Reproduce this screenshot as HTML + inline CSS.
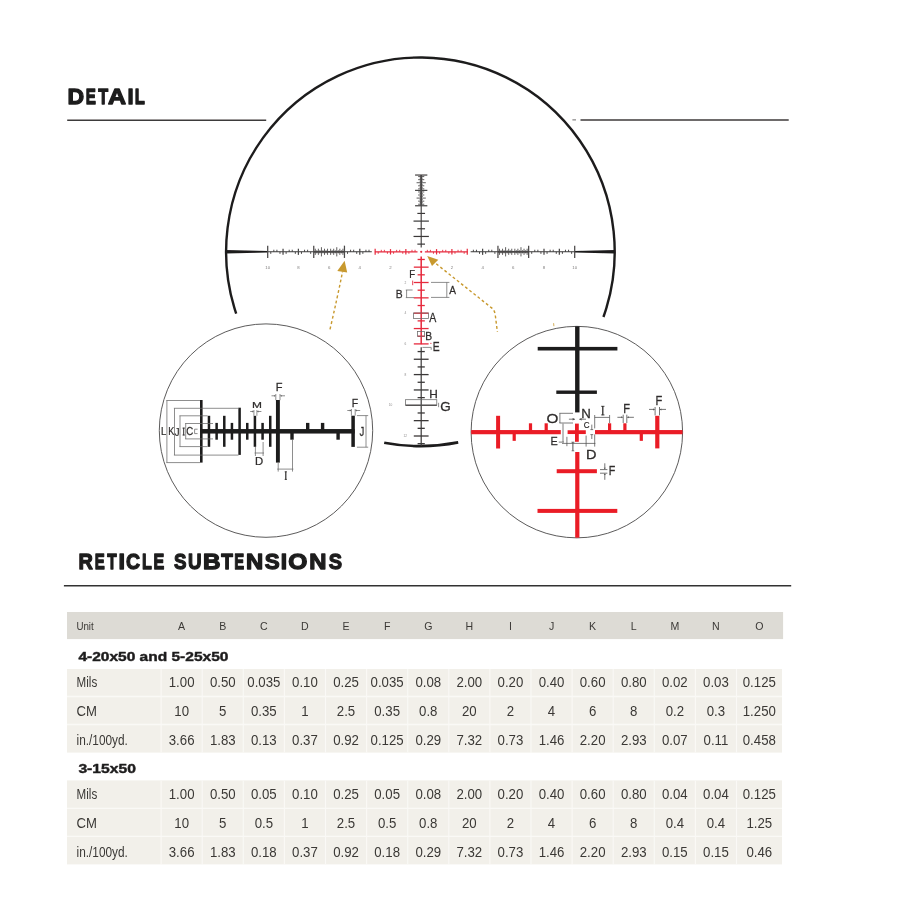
<!DOCTYPE html>
<html><head><meta charset="utf-8"><title>Reticle Subtensions</title>
<style>
html,body{margin:0;padding:0;background:#fff;}
body{width:908px;height:908px;overflow:hidden;font-family:"Liberation Sans",sans-serif;}
svg{will-change:transform;display:block;font-family:"Liberation Sans",sans-serif;}
</style></head><body>
<svg width="908" height="908" viewBox="0 0 908 908">
<defs><filter id="soft" x="0" y="0" width="908" height="908" filterUnits="userSpaceOnUse"><feGaussianBlur stdDeviation="0.45"/></filter></defs>
<rect width="908" height="908" fill="#ffffff"/>
<g filter="url(#soft)">
<path d="M236.19 313.60 A194.3 194.3 0 1 1 603.43 317.00" fill="none" stroke="#1d1b1c" stroke-width="2.4"/>
<path d="M458.20 442.39 A194.3 194.3 0 0 1 384.20 442.70" fill="none" stroke="#1d1b1c" stroke-width="2.6"/>
<polygon points="226.10,250.10000000000002 267.70,251.0 267.70,252.60000000000002 226.10,253.5" fill="#1d1b1c"/>
<polygon points="614.70,250.10000000000002 574.70,251.0 574.70,252.60000000000002 614.70,253.5" fill="#1d1b1c"/>
<line x1="371.77" y1="251.80" x2="267.70" y2="251.80" stroke="#3a3838" stroke-width="1.1" />
<line x1="369.01" y1="249.73" x2="369.01" y2="251.80" stroke="#3a3838" stroke-width="0.9" />
<line x1="365.94" y1="249.73" x2="365.94" y2="251.80" stroke="#3a3838" stroke-width="0.9" />
<line x1="362.87" y1="251.80" x2="362.87" y2="253.87" stroke="#3a3838" stroke-width="0.9" />
<line x1="359.80" y1="248.73" x2="359.80" y2="254.87" stroke="#4a4848" stroke-width="1.25" />
<line x1="356.73" y1="251.80" x2="356.73" y2="253.87" stroke="#3a3838" stroke-width="0.9" />
<line x1="353.66" y1="249.73" x2="353.66" y2="251.80" stroke="#3a3838" stroke-width="0.9" />
<line x1="350.59" y1="249.73" x2="350.59" y2="251.80" stroke="#3a3838" stroke-width="0.9" />
<line x1="347.52" y1="251.80" x2="347.52" y2="253.87" stroke="#3a3838" stroke-width="0.9" />
<line x1="344.45" y1="245.66" x2="344.45" y2="257.94" stroke="#4a4848" stroke-width="1.25" />
<line x1="313.75" y1="245.66" x2="313.75" y2="257.94" stroke="#4a4848" stroke-width="1.25" />
<line x1="310.68" y1="251.80" x2="310.68" y2="253.87" stroke="#3a3838" stroke-width="0.9" />
<line x1="307.61" y1="249.73" x2="307.61" y2="251.80" stroke="#3a3838" stroke-width="0.9" />
<line x1="304.54" y1="249.73" x2="304.54" y2="251.80" stroke="#3a3838" stroke-width="0.9" />
<line x1="301.47" y1="251.80" x2="301.47" y2="253.87" stroke="#3a3838" stroke-width="0.9" />
<line x1="298.40" y1="248.73" x2="298.40" y2="254.87" stroke="#4a4848" stroke-width="1.25" />
<line x1="295.33" y1="251.80" x2="295.33" y2="253.87" stroke="#3a3838" stroke-width="0.9" />
<line x1="292.26" y1="249.73" x2="292.26" y2="251.80" stroke="#3a3838" stroke-width="0.9" />
<line x1="289.19" y1="249.73" x2="289.19" y2="251.80" stroke="#3a3838" stroke-width="0.9" />
<line x1="286.12" y1="251.80" x2="286.12" y2="253.87" stroke="#3a3838" stroke-width="0.9" />
<line x1="283.05" y1="248.73" x2="283.05" y2="254.87" stroke="#4a4848" stroke-width="1.25" />
<line x1="279.98" y1="251.80" x2="279.98" y2="253.87" stroke="#3a3838" stroke-width="0.9" />
<line x1="276.91" y1="249.73" x2="276.91" y2="251.80" stroke="#3a3838" stroke-width="0.9" />
<line x1="273.84" y1="249.73" x2="273.84" y2="251.80" stroke="#3a3838" stroke-width="0.9" />
<line x1="270.77" y1="251.80" x2="270.77" y2="253.87" stroke="#3a3838" stroke-width="0.9" />
<line x1="267.70" y1="245.66" x2="267.70" y2="257.94" stroke="#4a4848" stroke-width="1.25" />
<line x1="344.45" y1="251.80" x2="313.75" y2="251.80" stroke="#454343" stroke-width="1.7" />
<line x1="342.91" y1="248.73" x2="342.91" y2="254.87" stroke="#4e4c4c" stroke-width="0.9" />
<line x1="341.38" y1="250.27" x2="341.38" y2="253.34" stroke="#4e4c4c" stroke-width="0.9" />
<line x1="339.84" y1="248.73" x2="339.84" y2="254.87" stroke="#4e4c4c" stroke-width="0.9" />
<line x1="338.31" y1="250.27" x2="338.31" y2="253.34" stroke="#4e4c4c" stroke-width="0.9" />
<line x1="336.77" y1="247.20" x2="336.77" y2="256.41" stroke="#4e4c4c" stroke-width="0.9" />
<line x1="335.24" y1="250.27" x2="335.24" y2="253.34" stroke="#4e4c4c" stroke-width="0.9" />
<line x1="333.70" y1="248.73" x2="333.70" y2="254.87" stroke="#4e4c4c" stroke-width="0.9" />
<line x1="332.17" y1="250.27" x2="332.17" y2="253.34" stroke="#4e4c4c" stroke-width="0.9" />
<line x1="330.63" y1="248.73" x2="330.63" y2="254.87" stroke="#4e4c4c" stroke-width="0.9" />
<line x1="327.56" y1="248.73" x2="327.56" y2="254.87" stroke="#4e4c4c" stroke-width="0.9" />
<line x1="326.03" y1="250.27" x2="326.03" y2="253.34" stroke="#4e4c4c" stroke-width="0.9" />
<line x1="324.50" y1="248.73" x2="324.50" y2="254.87" stroke="#4e4c4c" stroke-width="0.9" />
<line x1="322.96" y1="250.27" x2="322.96" y2="253.34" stroke="#4e4c4c" stroke-width="0.9" />
<line x1="321.43" y1="247.20" x2="321.43" y2="256.41" stroke="#4e4c4c" stroke-width="0.9" />
<line x1="319.89" y1="250.27" x2="319.89" y2="253.34" stroke="#4e4c4c" stroke-width="0.9" />
<line x1="318.36" y1="248.73" x2="318.36" y2="254.87" stroke="#4e4c4c" stroke-width="0.9" />
<line x1="316.82" y1="250.27" x2="316.82" y2="253.34" stroke="#4e4c4c" stroke-width="0.9" />
<line x1="315.28" y1="248.73" x2="315.28" y2="254.87" stroke="#4e4c4c" stroke-width="0.9" />
<text x="390.50" y="269.20" font-size="4.3" fill="#7c7a7a" text-anchor="middle" font-weight="normal" >2</text>
<text x="359.80" y="269.20" font-size="4.3" fill="#7c7a7a" text-anchor="middle" font-weight="normal" >4</text>
<text x="329.10" y="269.20" font-size="4.3" fill="#7c7a7a" text-anchor="middle" font-weight="normal" >6</text>
<text x="298.40" y="269.20" font-size="4.3" fill="#7c7a7a" text-anchor="middle" font-weight="normal" >8</text>
<text x="267.70" y="269.20" font-size="4.3" fill="#7c7a7a" text-anchor="middle" font-weight="normal" >10</text>
<line x1="470.63" y1="251.80" x2="574.70" y2="251.80" stroke="#3a3838" stroke-width="1.1" />
<line x1="473.39" y1="249.73" x2="473.39" y2="251.80" stroke="#3a3838" stroke-width="0.9" />
<line x1="476.46" y1="249.73" x2="476.46" y2="251.80" stroke="#3a3838" stroke-width="0.9" />
<line x1="479.53" y1="251.80" x2="479.53" y2="253.87" stroke="#3a3838" stroke-width="0.9" />
<line x1="482.60" y1="248.73" x2="482.60" y2="254.87" stroke="#4a4848" stroke-width="1.25" />
<line x1="485.67" y1="251.80" x2="485.67" y2="253.87" stroke="#3a3838" stroke-width="0.9" />
<line x1="488.74" y1="249.73" x2="488.74" y2="251.80" stroke="#3a3838" stroke-width="0.9" />
<line x1="491.81" y1="249.73" x2="491.81" y2="251.80" stroke="#3a3838" stroke-width="0.9" />
<line x1="494.88" y1="251.80" x2="494.88" y2="253.87" stroke="#3a3838" stroke-width="0.9" />
<line x1="497.95" y1="245.66" x2="497.95" y2="257.94" stroke="#4a4848" stroke-width="1.25" />
<line x1="528.65" y1="245.66" x2="528.65" y2="257.94" stroke="#4a4848" stroke-width="1.25" />
<line x1="531.72" y1="251.80" x2="531.72" y2="253.87" stroke="#3a3838" stroke-width="0.9" />
<line x1="534.79" y1="249.73" x2="534.79" y2="251.80" stroke="#3a3838" stroke-width="0.9" />
<line x1="537.86" y1="249.73" x2="537.86" y2="251.80" stroke="#3a3838" stroke-width="0.9" />
<line x1="540.93" y1="251.80" x2="540.93" y2="253.87" stroke="#3a3838" stroke-width="0.9" />
<line x1="544.00" y1="248.73" x2="544.00" y2="254.87" stroke="#4a4848" stroke-width="1.25" />
<line x1="547.07" y1="251.80" x2="547.07" y2="253.87" stroke="#3a3838" stroke-width="0.9" />
<line x1="550.14" y1="249.73" x2="550.14" y2="251.80" stroke="#3a3838" stroke-width="0.9" />
<line x1="553.21" y1="249.73" x2="553.21" y2="251.80" stroke="#3a3838" stroke-width="0.9" />
<line x1="556.28" y1="251.80" x2="556.28" y2="253.87" stroke="#3a3838" stroke-width="0.9" />
<line x1="559.35" y1="248.73" x2="559.35" y2="254.87" stroke="#4a4848" stroke-width="1.25" />
<line x1="562.42" y1="251.80" x2="562.42" y2="253.87" stroke="#3a3838" stroke-width="0.9" />
<line x1="565.49" y1="249.73" x2="565.49" y2="251.80" stroke="#3a3838" stroke-width="0.9" />
<line x1="568.56" y1="249.73" x2="568.56" y2="251.80" stroke="#3a3838" stroke-width="0.9" />
<line x1="571.63" y1="251.80" x2="571.63" y2="253.87" stroke="#3a3838" stroke-width="0.9" />
<line x1="574.70" y1="245.66" x2="574.70" y2="257.94" stroke="#4a4848" stroke-width="1.25" />
<line x1="497.95" y1="251.80" x2="528.65" y2="251.80" stroke="#454343" stroke-width="1.7" />
<line x1="499.49" y1="248.73" x2="499.49" y2="254.87" stroke="#4e4c4c" stroke-width="0.9" />
<line x1="501.02" y1="250.27" x2="501.02" y2="253.34" stroke="#4e4c4c" stroke-width="0.9" />
<line x1="502.56" y1="248.73" x2="502.56" y2="254.87" stroke="#4e4c4c" stroke-width="0.9" />
<line x1="504.09" y1="250.27" x2="504.09" y2="253.34" stroke="#4e4c4c" stroke-width="0.9" />
<line x1="505.62" y1="247.20" x2="505.62" y2="256.41" stroke="#4e4c4c" stroke-width="0.9" />
<line x1="507.16" y1="250.27" x2="507.16" y2="253.34" stroke="#4e4c4c" stroke-width="0.9" />
<line x1="508.69" y1="248.73" x2="508.69" y2="254.87" stroke="#4e4c4c" stroke-width="0.9" />
<line x1="510.23" y1="250.27" x2="510.23" y2="253.34" stroke="#4e4c4c" stroke-width="0.9" />
<line x1="511.76" y1="248.73" x2="511.76" y2="254.87" stroke="#4e4c4c" stroke-width="0.9" />
<line x1="514.84" y1="248.73" x2="514.84" y2="254.87" stroke="#4e4c4c" stroke-width="0.9" />
<line x1="516.37" y1="250.27" x2="516.37" y2="253.34" stroke="#4e4c4c" stroke-width="0.9" />
<line x1="517.90" y1="248.73" x2="517.90" y2="254.87" stroke="#4e4c4c" stroke-width="0.9" />
<line x1="519.44" y1="250.27" x2="519.44" y2="253.34" stroke="#4e4c4c" stroke-width="0.9" />
<line x1="520.98" y1="247.20" x2="520.98" y2="256.41" stroke="#4e4c4c" stroke-width="0.9" />
<line x1="522.51" y1="250.27" x2="522.51" y2="253.34" stroke="#4e4c4c" stroke-width="0.9" />
<line x1="524.04" y1="248.73" x2="524.04" y2="254.87" stroke="#4e4c4c" stroke-width="0.9" />
<line x1="525.58" y1="250.27" x2="525.58" y2="253.34" stroke="#4e4c4c" stroke-width="0.9" />
<line x1="527.12" y1="248.73" x2="527.12" y2="254.87" stroke="#4e4c4c" stroke-width="0.9" />
<text x="451.90" y="269.20" font-size="4.3" fill="#7c7a7a" text-anchor="middle" font-weight="normal" >2</text>
<text x="482.60" y="269.20" font-size="4.3" fill="#7c7a7a" text-anchor="middle" font-weight="normal" >4</text>
<text x="513.30" y="269.20" font-size="4.3" fill="#7c7a7a" text-anchor="middle" font-weight="normal" >6</text>
<text x="544.00" y="269.20" font-size="4.3" fill="#7c7a7a" text-anchor="middle" font-weight="normal" >8</text>
<text x="574.70" y="269.20" font-size="4.3" fill="#7c7a7a" text-anchor="middle" font-weight="normal" >10</text>
<line x1="421.20" y1="247.50" x2="421.20" y2="175.05" stroke="#3a3838" stroke-width="1.1" />
<line x1="417.36" y1="244.12" x2="425.04" y2="244.12" stroke="#3a3838" stroke-width="1.2" />
<line x1="413.52" y1="236.45" x2="428.88" y2="236.45" stroke="#3a3838" stroke-width="1.2" />
<line x1="417.36" y1="228.78" x2="425.04" y2="228.78" stroke="#3a3838" stroke-width="1.2" />
<line x1="413.52" y1="221.10" x2="428.88" y2="221.10" stroke="#3a3838" stroke-width="1.2" />
<line x1="417.36" y1="213.43" x2="425.04" y2="213.43" stroke="#3a3838" stroke-width="1.2" />
<line x1="421.20" y1="205.75" x2="421.20" y2="175.05" stroke="#454343" stroke-width="1.7" />
<line x1="415.06" y1="205.75" x2="427.34" y2="205.75" stroke="#4a4848" stroke-width="1.25" />
<line x1="418.13" y1="204.22" x2="424.27" y2="204.22" stroke="#4e4c4c" stroke-width="0.9" />
<line x1="419.66" y1="202.68" x2="422.74" y2="202.68" stroke="#4e4c4c" stroke-width="0.9" />
<line x1="418.13" y1="201.15" x2="424.27" y2="201.15" stroke="#4e4c4c" stroke-width="0.9" />
<line x1="419.66" y1="199.61" x2="422.74" y2="199.61" stroke="#4e4c4c" stroke-width="0.9" />
<line x1="416.59" y1="198.08" x2="425.81" y2="198.08" stroke="#4e4c4c" stroke-width="0.9" />
<line x1="419.66" y1="196.54" x2="422.74" y2="196.54" stroke="#4e4c4c" stroke-width="0.9" />
<line x1="418.13" y1="195.00" x2="424.27" y2="195.00" stroke="#4e4c4c" stroke-width="0.9" />
<line x1="419.66" y1="193.47" x2="422.74" y2="193.47" stroke="#4e4c4c" stroke-width="0.9" />
<line x1="418.13" y1="191.94" x2="424.27" y2="191.94" stroke="#4e4c4c" stroke-width="0.9" />
<line x1="415.06" y1="190.40" x2="427.34" y2="190.40" stroke="#4a4848" stroke-width="1.25" />
<line x1="418.13" y1="188.87" x2="424.27" y2="188.87" stroke="#4e4c4c" stroke-width="0.9" />
<line x1="419.66" y1="187.33" x2="422.74" y2="187.33" stroke="#4e4c4c" stroke-width="0.9" />
<line x1="418.13" y1="185.80" x2="424.27" y2="185.80" stroke="#4e4c4c" stroke-width="0.9" />
<line x1="419.66" y1="184.26" x2="422.74" y2="184.26" stroke="#4e4c4c" stroke-width="0.9" />
<line x1="416.59" y1="182.73" x2="425.81" y2="182.73" stroke="#4e4c4c" stroke-width="0.9" />
<line x1="419.66" y1="181.19" x2="422.74" y2="181.19" stroke="#4e4c4c" stroke-width="0.9" />
<line x1="418.13" y1="179.66" x2="424.27" y2="179.66" stroke="#4e4c4c" stroke-width="0.9" />
<line x1="419.66" y1="178.12" x2="422.74" y2="178.12" stroke="#4e4c4c" stroke-width="0.9" />
<line x1="418.13" y1="176.59" x2="424.27" y2="176.59" stroke="#4e4c4c" stroke-width="0.9" />
<line x1="415.06" y1="175.05" x2="427.34" y2="175.05" stroke="#4a4848" stroke-width="1.25" />
<line x1="417.52" y1="251.80" x2="374.84" y2="251.80" stroke="#e62a3c" stroke-width="1.25" />
<line x1="415.06" y1="249.83" x2="415.06" y2="251.80" stroke="#e62a3c" stroke-width="0.9" />
<line x1="411.99" y1="249.83" x2="411.99" y2="251.80" stroke="#e62a3c" stroke-width="0.9" />
<line x1="408.92" y1="251.80" x2="408.92" y2="253.77" stroke="#e62a3c" stroke-width="0.9" />
<line x1="405.85" y1="249.10" x2="405.85" y2="254.50" stroke="#e62a3c" stroke-width="1.2" />
<line x1="402.78" y1="251.80" x2="402.78" y2="253.77" stroke="#e62a3c" stroke-width="0.9" />
<line x1="399.71" y1="249.83" x2="399.71" y2="251.80" stroke="#e62a3c" stroke-width="0.9" />
<line x1="396.64" y1="249.83" x2="396.64" y2="251.80" stroke="#e62a3c" stroke-width="0.9" />
<line x1="393.57" y1="251.80" x2="393.57" y2="253.77" stroke="#e62a3c" stroke-width="0.9" />
<line x1="390.50" y1="249.10" x2="390.50" y2="254.50" stroke="#e62a3c" stroke-width="1.2" />
<line x1="387.43" y1="251.80" x2="387.43" y2="253.77" stroke="#e62a3c" stroke-width="0.9" />
<line x1="384.36" y1="249.83" x2="384.36" y2="251.80" stroke="#e62a3c" stroke-width="0.9" />
<line x1="381.29" y1="249.83" x2="381.29" y2="251.80" stroke="#e62a3c" stroke-width="0.9" />
<line x1="378.22" y1="251.80" x2="378.22" y2="253.77" stroke="#e62a3c" stroke-width="0.9" />
<line x1="375.15" y1="248.80" x2="375.15" y2="254.80" stroke="#e62a3c" stroke-width="1.2" />
<line x1="424.88" y1="251.80" x2="467.56" y2="251.80" stroke="#e62a3c" stroke-width="1.25" />
<line x1="427.34" y1="249.83" x2="427.34" y2="251.80" stroke="#e62a3c" stroke-width="0.9" />
<line x1="430.41" y1="249.83" x2="430.41" y2="251.80" stroke="#e62a3c" stroke-width="0.9" />
<line x1="433.48" y1="251.80" x2="433.48" y2="253.77" stroke="#e62a3c" stroke-width="0.9" />
<line x1="436.55" y1="249.10" x2="436.55" y2="254.50" stroke="#e62a3c" stroke-width="1.2" />
<line x1="439.62" y1="251.80" x2="439.62" y2="253.77" stroke="#e62a3c" stroke-width="0.9" />
<line x1="442.69" y1="249.83" x2="442.69" y2="251.80" stroke="#e62a3c" stroke-width="0.9" />
<line x1="445.76" y1="249.83" x2="445.76" y2="251.80" stroke="#e62a3c" stroke-width="0.9" />
<line x1="448.83" y1="251.80" x2="448.83" y2="253.77" stroke="#e62a3c" stroke-width="0.9" />
<line x1="451.90" y1="249.10" x2="451.90" y2="254.50" stroke="#e62a3c" stroke-width="1.2" />
<line x1="454.97" y1="251.80" x2="454.97" y2="253.77" stroke="#e62a3c" stroke-width="0.9" />
<line x1="458.04" y1="249.83" x2="458.04" y2="251.80" stroke="#e62a3c" stroke-width="0.9" />
<line x1="461.11" y1="249.83" x2="461.11" y2="251.80" stroke="#e62a3c" stroke-width="0.9" />
<line x1="464.18" y1="251.80" x2="464.18" y2="253.77" stroke="#e62a3c" stroke-width="0.9" />
<line x1="467.25" y1="248.80" x2="467.25" y2="254.80" stroke="#e62a3c" stroke-width="1.2" />
<circle cx="421.2" cy="251.8" r="1.1" fill="#e62a3c"/>
<line x1="421.20" y1="256.41" x2="421.20" y2="344.21" stroke="#e62a3c" stroke-width="1.5" />
<line x1="417.60" y1="259.48" x2="424.80" y2="259.48" stroke="#e62a3c" stroke-width="1.3" />
<line x1="413.80" y1="267.15" x2="428.60" y2="267.15" stroke="#e62a3c" stroke-width="1.3" />
<line x1="417.60" y1="274.82" x2="424.80" y2="274.82" stroke="#e62a3c" stroke-width="1.3" />
<line x1="413.80" y1="282.50" x2="428.60" y2="282.50" stroke="#e62a3c" stroke-width="1.3" />
<line x1="417.60" y1="290.18" x2="424.80" y2="290.18" stroke="#e62a3c" stroke-width="1.3" />
<line x1="413.80" y1="297.85" x2="428.60" y2="297.85" stroke="#e62a3c" stroke-width="1.3" />
<line x1="417.60" y1="305.53" x2="424.80" y2="305.53" stroke="#e62a3c" stroke-width="1.3" />
<line x1="413.80" y1="313.20" x2="428.60" y2="313.20" stroke="#e62a3c" stroke-width="1.3" />
<line x1="417.60" y1="320.88" x2="424.80" y2="320.88" stroke="#e62a3c" stroke-width="1.3" />
<line x1="413.80" y1="328.55" x2="428.60" y2="328.55" stroke="#e62a3c" stroke-width="1.3" />
<line x1="417.60" y1="336.23" x2="424.80" y2="336.23" stroke="#e62a3c" stroke-width="1.3" />
<line x1="413.80" y1="343.90" x2="428.60" y2="343.90" stroke="#e62a3c" stroke-width="1.3" />
<line x1="421.20" y1="347.28" x2="421.20" y2="446.10" stroke="#3a3838" stroke-width="1.2000000000000002" />
<line x1="417.60" y1="351.57" x2="424.80" y2="351.57" stroke="#3a3838" stroke-width="1.3" />
<line x1="413.80" y1="359.25" x2="428.60" y2="359.25" stroke="#3a3838" stroke-width="1.3" />
<line x1="417.60" y1="366.93" x2="424.80" y2="366.93" stroke="#3a3838" stroke-width="1.3" />
<line x1="413.80" y1="374.60" x2="428.60" y2="374.60" stroke="#3a3838" stroke-width="1.3" />
<line x1="417.60" y1="382.27" x2="424.80" y2="382.27" stroke="#3a3838" stroke-width="1.3" />
<line x1="413.80" y1="389.95" x2="428.60" y2="389.95" stroke="#3a3838" stroke-width="1.3" />
<line x1="417.60" y1="397.62" x2="424.80" y2="397.62" stroke="#3a3838" stroke-width="1.3" />
<line x1="405.60" y1="405.30" x2="436.80" y2="405.30" stroke="#3a3838" stroke-width="1.3" />
<line x1="417.60" y1="412.98" x2="424.80" y2="412.98" stroke="#3a3838" stroke-width="1.3" />
<line x1="413.80" y1="420.65" x2="428.60" y2="420.65" stroke="#3a3838" stroke-width="1.3" />
<line x1="417.60" y1="428.33" x2="424.80" y2="428.33" stroke="#3a3838" stroke-width="1.3" />
<line x1="413.80" y1="436.00" x2="428.60" y2="436.00" stroke="#3a3838" stroke-width="1.3" />
<line x1="417.60" y1="443.68" x2="424.80" y2="443.68" stroke="#3a3838" stroke-width="1.3" />
<text x="405.50" y="283.60" font-size="3.2" fill="#8e8c8c" text-anchor="middle" font-weight="normal" >2</text>
<text x="405.50" y="314.30" font-size="3.2" fill="#8e8c8c" text-anchor="middle" font-weight="normal" >4</text>
<text x="405.50" y="345.00" font-size="3.2" fill="#8e8c8c" text-anchor="middle" font-weight="normal" >6</text>
<text x="405.50" y="375.70" font-size="3.2" fill="#8e8c8c" text-anchor="middle" font-weight="normal" >8</text>
<text x="390.40" y="406.40" font-size="3.2" fill="#8e8c8c" text-anchor="middle" font-weight="normal" >10</text>
<text x="405.30" y="437.10" font-size="3.2" fill="#8e8c8c" text-anchor="middle" font-weight="normal" >12</text>
<text transform="translate(409.31,278.40) scale(0.9611,1.1337)" font-size="10.0" fill="#2e2c2b" stroke="#2e2c2b" stroke-width="0.22">F</text>
<line x1="412.70" y1="280.60" x2="412.70" y2="285.20" stroke="#e62a3c" stroke-width="0.9" />
<line x1="405.80" y1="290.00" x2="412.60" y2="290.00" stroke="#686868" stroke-width="0.75" />
<line x1="405.80" y1="297.60" x2="414.00" y2="297.60" stroke="#686868" stroke-width="0.75" />
<line x1="406.60" y1="290.00" x2="406.60" y2="297.60" stroke="#686868" stroke-width="0.75" />
<text transform="translate(395.75,298.20) scale(1.0338,1.1628)" font-size="10.0" fill="#2e2c2b" stroke="#2e2c2b" stroke-width="0.22">B</text>
<line x1="431.00" y1="282.40" x2="449.40" y2="282.40" stroke="#686868" stroke-width="0.75" />
<line x1="431.00" y1="297.40" x2="449.40" y2="297.40" stroke="#686868" stroke-width="0.75" />
<line x1="446.80" y1="282.40" x2="446.80" y2="297.40" stroke="#686868" stroke-width="0.75" />
<text transform="translate(449.28,293.70) scale(1.0106,1.1483)" font-size="10.0" fill="#2e2c2b" stroke="#2e2c2b" stroke-width="0.22">A</text>
<rect x="413.40" y="313.00" width="15.20" height="5.40" fill="none" stroke="#686868" stroke-width="0.75"/>
<text transform="translate(429.28,321.70) scale(1.0558,1.1919)" font-size="10.0" fill="#2e2c2b" stroke="#2e2c2b" stroke-width="0.22">A</text>
<rect x="417.40" y="331.40" width="7.20" height="4.80" fill="none" stroke="#686868" stroke-width="0.75"/>
<text transform="translate(425.35,339.90) scale(1.0338,1.1483)" font-size="10.0" fill="#2e2c2b" stroke="#2e2c2b" stroke-width="0.22">B</text>
<line x1="422.40" y1="347.40" x2="431.20" y2="347.40" stroke="#686868" stroke-width="0.75" />
<line x1="431.20" y1="347.40" x2="431.20" y2="349.80" stroke="#686868" stroke-width="0.75" />
<circle cx="430.9" cy="343.3" r="0.6" fill="#e62a3c"/>
<text transform="translate(432.75,350.60) scale(1.0332,1.2791)" font-size="10.0" fill="#2e2c2b" stroke="#2e2c2b" stroke-width="0.22">E</text>
<text transform="translate(429.33,398.00) scale(1.1807,1.1483)" font-size="10.0" fill="#2e2c2b" stroke="#2e2c2b" stroke-width="0.22">H</text>
<rect x="405.60" y="399.70" width="31.20" height="5.40" fill="none" stroke="#686868" stroke-width="0.75"/>
<line x1="438.60" y1="402.80" x2="438.60" y2="407.20" stroke="#686868" stroke-width="0.75" />
<text transform="translate(440.33,410.87) scale(1.3476,1.2853)" font-size="10.0" fill="#2e2c2b" stroke="#2e2c2b" stroke-width="0.22">G</text>
<path d="M330.0 329.4 Q337.5 297 342.6 271.5" fill="none" stroke="#c8992f" stroke-width="1.4" stroke-dasharray="2.8 2.5"/>
<polygon points="344.6,260.8 337.3,271.0 347.2,272.6" fill="#c8992f"/>
<path d="M436.2 263.8 L491.6 307.9 Q494.6 310.4 495.2 314.4 L497.4 332" fill="none" stroke="#c8992f" stroke-width="1.4" stroke-dasharray="2.8 2.5"/>
<polygon points="427.2,256.0 438.3,259.7 432.0,266.0" fill="#c8992f"/>
<line x1="553.60" y1="323.20" x2="553.90" y2="326.20" stroke="#c8992f" stroke-width="0.8" />
<circle cx="266.0" cy="430.6" r="106.7" fill="#ffffff" stroke="#4a4848" stroke-width="0.9"/>
<rect x="201.30" y="429.05" width="153.30" height="4.50" fill="#1d1b1c" />
<rect x="200.00" y="400.00" width="2.60" height="62.60" fill="#1d1b1c" />
<rect x="207.71" y="415.80" width="2.50" height="31.00" fill="#1d1b1c" />
<rect x="215.37" y="422.90" width="2.50" height="16.80" fill="#1d1b1c" />
<rect x="223.03" y="415.80" width="2.50" height="31.00" fill="#1d1b1c" />
<rect x="230.69" y="422.90" width="2.50" height="16.80" fill="#1d1b1c" />
<rect x="238.35" y="407.70" width="2.50" height="47.20" fill="#1d1b1c" />
<rect x="246.01" y="422.90" width="2.50" height="16.80" fill="#1d1b1c" />
<rect x="253.67" y="415.80" width="2.50" height="31.00" fill="#1d1b1c" />
<rect x="261.33" y="422.90" width="2.50" height="16.80" fill="#1d1b1c" />
<rect x="268.99" y="415.80" width="2.50" height="31.00" fill="#1d1b1c" />
<rect x="275.95" y="400.00" width="3.90" height="62.60" fill="#1d1b1c" />
<rect x="290.30" y="431.30" width="3.40" height="8.40" fill="#1d1b1c" />
<rect x="306.00" y="422.90" width="3.40" height="8.40" fill="#1d1b1c" />
<rect x="320.90" y="422.90" width="3.40" height="8.40" fill="#1d1b1c" />
<rect x="336.40" y="431.30" width="3.40" height="8.40" fill="#1d1b1c" />
<rect x="351.35" y="415.70" width="3.50" height="31.20" fill="#1d1b1c" />
<line x1="166.30" y1="400.50" x2="200.00" y2="400.50" stroke="#686868" stroke-width="0.75" />
<line x1="166.30" y1="462.60" x2="200.00" y2="462.60" stroke="#686868" stroke-width="0.75" />
<line x1="166.90" y1="400.50" x2="166.90" y2="462.60" stroke="#686868" stroke-width="0.75" />
<line x1="173.90" y1="408.30" x2="238.50" y2="408.30" stroke="#686868" stroke-width="0.75" />
<line x1="173.90" y1="455.10" x2="238.50" y2="455.10" stroke="#686868" stroke-width="0.75" />
<line x1="174.50" y1="408.30" x2="174.50" y2="455.10" stroke="#686868" stroke-width="0.75" />
<line x1="179.40" y1="415.80" x2="207.60" y2="415.80" stroke="#686868" stroke-width="0.75" />
<line x1="179.40" y1="446.60" x2="207.60" y2="446.60" stroke="#686868" stroke-width="0.75" />
<line x1="180.00" y1="415.80" x2="180.00" y2="446.60" stroke="#686868" stroke-width="0.75" />
<line x1="185.10" y1="423.50" x2="213.00" y2="423.50" stroke="#686868" stroke-width="0.75" />
<line x1="185.10" y1="438.90" x2="213.00" y2="438.90" stroke="#686868" stroke-width="0.75" />
<line x1="185.70" y1="423.50" x2="185.70" y2="438.90" stroke="#686868" stroke-width="0.75" />
<line x1="194.60" y1="429.20" x2="197.60" y2="429.20" stroke="#686868" stroke-width="0.75" />
<line x1="194.60" y1="433.60" x2="197.60" y2="433.60" stroke="#686868" stroke-width="0.75" />
<line x1="194.60" y1="429.20" x2="194.60" y2="433.60" stroke="#686868" stroke-width="0.75" />
<text transform="translate(161.12,435.00) scale(0.9524,1.0174)" font-size="10.0" fill="#2e2c2b" stroke="#2e2c2b" stroke-width="0.22">L</text>
<text transform="translate(168.16,435.00) scale(0.9075,1.0174)" font-size="10.0" fill="#2e2c2b" stroke="#2e2c2b" stroke-width="0.22">K</text>
<text transform="translate(174.85,435.59) scale(0.9512,1.1032)" font-size="10.0" fill="#2e2c2b" stroke="#2e2c2b" stroke-width="0.22">J</text>
<line x1="183.70" y1="427.70" x2="183.70" y2="435.40" stroke="#2e2c2b" stroke-width="1.0" />
<line x1="182.50" y1="428.10" x2="184.90" y2="428.10" stroke="#2e2c2b" stroke-width="0.8" />
<line x1="182.50" y1="435.00" x2="184.90" y2="435.00" stroke="#2e2c2b" stroke-width="0.8" />
<text transform="translate(186.31,435.38) scale(0.9637,1.1582)" font-size="10.0" fill="#2e2c2b" stroke="#2e2c2b" stroke-width="0.22">C</text>
<text transform="translate(252.02,407.60) scale(1.1958,0.9738)" font-size="10.0" fill="#2e2c2b" stroke="#2e2c2b" stroke-width="0.22">M</text>
<line x1="250.20" y1="411.50" x2="252.94" y2="411.50" stroke="#5c5c5c" stroke-width="0.7" />
<line x1="257.86" y1="411.50" x2="261.40" y2="411.50" stroke="#5c5c5c" stroke-width="0.7" />
<line x1="253.90" y1="410.00" x2="253.90" y2="415.80" stroke="#5c5c5c" stroke-width="0.7" />
<line x1="256.90" y1="410.00" x2="256.90" y2="415.80" stroke="#5c5c5c" stroke-width="0.7" />
<polygon points="253.90,411.50 252.30,410.60 252.30,412.40" fill="#5c5c5c"/>
<polygon points="256.90,411.50 258.50,410.60 258.50,412.40" fill="#5c5c5c"/>
<line x1="255.40" y1="447.00" x2="255.40" y2="456.00" stroke="#686868" stroke-width="0.75" />
<line x1="263.10" y1="442.00" x2="263.10" y2="456.00" stroke="#686868" stroke-width="0.75" />
<line x1="254.60" y1="453.00" x2="264.00" y2="453.00" stroke="#686868" stroke-width="0.75" />
<text transform="translate(255.07,465.40) scale(1.1318,1.1337)" font-size="10.0" fill="#2e2c2b" stroke="#2e2c2b" stroke-width="0.22">D</text>
<text transform="translate(275.79,391.20) scale(1.1043,1.1483)" font-size="10.0" fill="#2e2c2b" stroke="#2e2c2b" stroke-width="0.22">F</text>
<line x1="271.50" y1="395.80" x2="274.84" y2="395.80" stroke="#5c5c5c" stroke-width="0.7" />
<line x1="280.96" y1="395.80" x2="285.00" y2="395.80" stroke="#5c5c5c" stroke-width="0.7" />
<line x1="275.80" y1="394.00" x2="275.80" y2="400.20" stroke="#5c5c5c" stroke-width="0.7" />
<line x1="280.00" y1="394.00" x2="280.00" y2="400.20" stroke="#5c5c5c" stroke-width="0.7" />
<polygon points="275.80,395.80 274.20,394.90 274.20,396.70" fill="#5c5c5c"/>
<polygon points="280.00,395.80 281.60,394.90 281.60,396.70" fill="#5c5c5c"/>
<text transform="translate(351.74,406.90) scale(1.0429,1.1483)" font-size="10.0" fill="#2e2c2b" stroke="#2e2c2b" stroke-width="0.22">F</text>
<line x1="347.30" y1="410.50" x2="350.44" y2="410.50" stroke="#5c5c5c" stroke-width="0.7" />
<line x1="356.16" y1="410.50" x2="360.20" y2="410.50" stroke="#5c5c5c" stroke-width="0.7" />
<line x1="351.40" y1="409.00" x2="351.40" y2="415.60" stroke="#5c5c5c" stroke-width="0.7" />
<line x1="355.20" y1="409.00" x2="355.20" y2="415.60" stroke="#5c5c5c" stroke-width="0.7" />
<polygon points="351.40,410.50 349.80,409.60 349.80,411.40" fill="#5c5c5c"/>
<polygon points="355.20,410.50 356.80,409.60 356.80,411.40" fill="#5c5c5c"/>
<line x1="356.90" y1="415.60" x2="368.20" y2="415.60" stroke="#686868" stroke-width="0.75" />
<line x1="356.90" y1="447.20" x2="368.20" y2="447.20" stroke="#686868" stroke-width="0.75" />
<line x1="366.00" y1="415.60" x2="366.00" y2="447.20" stroke="#686868" stroke-width="0.75" />
<text transform="translate(359.55,435.87) scale(0.9512,1.3037)" font-size="10.0" fill="#2e2c2b" stroke="#2e2c2b" stroke-width="0.22">J</text>
<line x1="278.20" y1="463.00" x2="278.20" y2="471.60" stroke="#686868" stroke-width="0.75" />
<line x1="292.50" y1="439.80" x2="292.50" y2="471.60" stroke="#686868" stroke-width="0.75" />
<line x1="277.20" y1="469.10" x2="293.40" y2="469.10" stroke="#686868" stroke-width="0.75" />
<line x1="285.80" y1="471.40" x2="285.80" y2="479.80" stroke="#2e2c2b" stroke-width="1.2" />
<line x1="284.70" y1="471.80" x2="286.90" y2="471.80" stroke="#2e2c2b" stroke-width="0.8" />
<line x1="284.70" y1="479.40" x2="286.90" y2="479.40" stroke="#2e2c2b" stroke-width="0.8" />
<circle cx="576.85" cy="432.1" r="105.75" fill="#ffffff" stroke="#4a4848" stroke-width="0.9"/>
<clipPath id="rc"><circle cx="576.85" cy="432.1" r="105.75"/></clipPath>
<g clip-path="url(#rc)">
<rect x="575.10" y="320.00" width="4.40" height="92.40" fill="#1d1b1c" />
<rect x="537.70" y="346.90" width="79.70" height="3.60" fill="#1d1b1c" />
<rect x="556.30" y="390.50" width="40.60" height="3.40" fill="#1d1b1c" />
<rect x="465.00" y="430.05" width="95.80" height="4.20" fill="#ea1c26" />
<rect x="595.00" y="430.05" width="95.00" height="4.20" fill="#ea1c26" />
<rect x="567.60" y="430.25" width="18.20" height="3.80" fill="#ea1c26" />
<rect x="575.00" y="423.60" width="3.80" height="18.20" fill="#ea1c26" />
<rect x="575.20" y="452.00" width="4.20" height="93.00" fill="#ea1c26" />
<rect x="556.70" y="469.20" width="40.20" height="4.00" fill="#ea1c26" />
<rect x="537.50" y="508.90" width="79.80" height="4.00" fill="#ea1c26" />
<rect x="496.10" y="415.80" width="4.00" height="32.70" fill="#ea1c26" />
<rect x="655.20" y="415.80" width="4.20" height="32.60" fill="#ea1c26" />
<rect x="512.60" y="432.15" width="3.20" height="8.70" fill="#ea1c26" />
<rect x="639.70" y="432.15" width="3.20" height="8.70" fill="#ea1c26" />
<rect x="528.90" y="423.30" width="3.20" height="8.85" fill="#ea1c26" />
<rect x="544.60" y="423.30" width="3.20" height="8.85" fill="#ea1c26" />
<rect x="608.00" y="423.30" width="3.20" height="8.85" fill="#ea1c26" />
<rect x="623.30" y="423.30" width="3.20" height="8.85" fill="#ea1c26" />
</g>
<line x1="559.40" y1="413.30" x2="573.00" y2="413.30" stroke="#505050" stroke-width="0.75" />
<line x1="559.40" y1="423.00" x2="573.00" y2="423.00" stroke="#505050" stroke-width="0.75" />
<line x1="559.90" y1="413.30" x2="559.90" y2="423.00" stroke="#505050" stroke-width="0.75" />
<text transform="translate(546.48,423.17) scale(1.5227,1.3418)" font-size="10.0" fill="#2e2c2b" stroke="#2e2c2b" stroke-width="0.22">O</text>
<text transform="translate(581.21,418.30) scale(1.3238,1.2355)" font-size="10.0" fill="#2e2c2b" stroke="#2e2c2b" stroke-width="0.22">N</text>
<line x1="568.90" y1="419.20" x2="574.60" y2="419.20" stroke="#505050" stroke-width="0.75" />
<line x1="579.60" y1="419.20" x2="586.00" y2="419.20" stroke="#505050" stroke-width="0.75" />
<polygon points="575.2,419.2 572.6,418.0 572.6,420.4" fill="#505050"/>
<polygon points="579.0,419.2 581.6,418.0 581.6,420.4" fill="#505050"/>
<line x1="602.80" y1="405.90" x2="602.80" y2="415.30" stroke="#2e2c2b" stroke-width="1.3" />
<line x1="601.10" y1="406.30" x2="604.50" y2="406.30" stroke="#2e2c2b" stroke-width="0.8" />
<line x1="601.10" y1="414.90" x2="604.50" y2="414.90" stroke="#2e2c2b" stroke-width="0.8" />
<line x1="594.70" y1="417.40" x2="609.60" y2="417.40" stroke="#505050" stroke-width="0.75" />
<line x1="594.70" y1="415.00" x2="594.70" y2="428.40" stroke="#505050" stroke-width="0.75" />
<line x1="609.60" y1="415.00" x2="609.60" y2="423.00" stroke="#505050" stroke-width="0.75" />
<text transform="translate(623.29,413.00) scale(1.1043,1.2355)" font-size="10.0" fill="#2e2c2b" stroke="#2e2c2b" stroke-width="0.22">F</text>
<line x1="617.40" y1="417.30" x2="622.06" y2="417.30" stroke="#505050" stroke-width="0.8" />
<line x1="627.94" y1="417.30" x2="633.90" y2="417.30" stroke="#505050" stroke-width="0.8" />
<line x1="623.20" y1="414.70" x2="623.20" y2="423.00" stroke="#505050" stroke-width="0.8" />
<line x1="626.80" y1="414.70" x2="626.80" y2="423.00" stroke="#505050" stroke-width="0.8" />
<polygon points="623.20,417.30 621.30,416.30 621.30,418.30" fill="#505050"/>
<polygon points="626.80,417.30 628.70,416.30 628.70,418.30" fill="#505050"/>
<text transform="translate(655.49,405.30) scale(1.1043,1.2936)" font-size="10.0" fill="#2e2c2b" stroke="#2e2c2b" stroke-width="0.22">F</text>
<line x1="649.00" y1="409.40" x2="653.96" y2="409.40" stroke="#505050" stroke-width="0.8" />
<line x1="660.64" y1="409.40" x2="666.00" y2="409.40" stroke="#505050" stroke-width="0.8" />
<line x1="655.10" y1="407.00" x2="655.10" y2="415.40" stroke="#505050" stroke-width="0.8" />
<line x1="659.50" y1="407.00" x2="659.50" y2="415.40" stroke="#505050" stroke-width="0.8" />
<polygon points="655.10,409.40 653.20,408.40 653.20,410.40" fill="#505050"/>
<polygon points="659.50,409.40 661.40,408.40 661.40,410.40" fill="#505050"/>
<text transform="translate(583.79,428.11) scale(0.8057,0.8616)" font-size="10.0" fill="#2e2c2b" stroke="#2e2c2b" stroke-width="0.22">C</text>
<line x1="591.80" y1="424.60" x2="591.80" y2="429.60" stroke="#505050" stroke-width="0.75" />
<line x1="591.80" y1="434.80" x2="591.80" y2="439.00" stroke="#505050" stroke-width="0.75" />
<line x1="590.40" y1="429.60" x2="593.20" y2="429.60" stroke="#505050" stroke-width="0.75" />
<line x1="590.40" y1="434.60" x2="593.20" y2="434.60" stroke="#505050" stroke-width="0.75" />
<line x1="563.00" y1="423.60" x2="563.00" y2="442.10" stroke="#505050" stroke-width="0.75" />
<line x1="558.80" y1="442.10" x2="564.00" y2="442.10" stroke="#505050" stroke-width="0.75" />
<text transform="translate(550.41,444.80) scale(1.0886,1.1773)" font-size="10.0" fill="#2e2c2b" stroke="#2e2c2b" stroke-width="0.22">E</text>
<line x1="562.00" y1="443.40" x2="595.40" y2="443.40" stroke="#505050" stroke-width="0.75" />
<line x1="566.90" y1="436.80" x2="566.90" y2="446.20" stroke="#505050" stroke-width="0.75" />
<line x1="586.10" y1="435.60" x2="586.10" y2="446.60" stroke="#505050" stroke-width="0.75" />
<line x1="594.70" y1="434.40" x2="594.70" y2="446.60" stroke="#505050" stroke-width="0.75" />
<line x1="572.90" y1="442.00" x2="572.90" y2="450.80" stroke="#505050" stroke-width="1.0" />
<line x1="571.40" y1="442.20" x2="574.40" y2="442.20" stroke="#505050" stroke-width="0.75" />
<line x1="571.60" y1="450.80" x2="574.20" y2="450.80" stroke="#505050" stroke-width="0.75" />
<text transform="translate(586.11,458.60) scale(1.4527,1.3227)" font-size="10.0" fill="#2e2c2b" stroke="#2e2c2b" stroke-width="0.22">D</text>
<text transform="translate(608.83,475.30) scale(1.0634,1.2936)" font-size="10.0" fill="#2e2c2b" stroke="#2e2c2b" stroke-width="0.22">F</text>
<line x1="604.80" y1="463.30" x2="604.80" y2="468.46" stroke="#505050" stroke-width="0.8" />
<line x1="604.80" y1="474.34" x2="604.80" y2="479.80" stroke="#505050" stroke-width="0.8" />
<line x1="600.00" y1="469.60" x2="607.40" y2="469.60" stroke="#505050" stroke-width="0.8" />
<line x1="600.00" y1="473.20" x2="607.40" y2="473.20" stroke="#505050" stroke-width="0.8" />
<polygon points="604.80,469.60 603.80,467.70 605.80,467.70" fill="#505050"/>
<polygon points="604.80,473.20 603.80,475.10 605.80,475.10" fill="#505050"/>
<text transform="translate(67.42,104.40) scale(1.0081,1)" font-size="22.8" font-weight="bold" fill="#1f1d1e" stroke="#1f1d1e" stroke-width="1.3" stroke-linejoin="round">D</text>
<text transform="translate(85.81,104.40) scale(0.6671,1)" font-size="22.8" font-weight="bold" fill="#1f1d1e" stroke="#1f1d1e" stroke-width="1.3" stroke-linejoin="round">E</text>
<text transform="translate(98.28,104.40) scale(0.7129,1)" font-size="22.8" font-weight="bold" fill="#1f1d1e" stroke="#1f1d1e" stroke-width="1.3" stroke-linejoin="round">T</text>
<text transform="translate(107.99,104.40) scale(1.0965,1)" font-size="22.8" font-weight="bold" fill="#1f1d1e" stroke="#1f1d1e" stroke-width="1.3" stroke-linejoin="round">A</text>
<text transform="translate(127.46,104.40) scale(0.9600,1)" font-size="22.8" font-weight="bold" fill="#1f1d1e" stroke="#1f1d1e" stroke-width="1.3" stroke-linejoin="round">I</text>
<text transform="translate(134.77,104.40) scale(0.7233,1)" font-size="22.8" font-weight="bold" fill="#1f1d1e" stroke="#1f1d1e" stroke-width="1.3" stroke-linejoin="round">L</text>
<line x1="67.20" y1="120.20" x2="266.20" y2="120.20" stroke="#3c3a3a" stroke-width="1.5" />
<line x1="580.50" y1="120.10" x2="788.70" y2="120.10" stroke="#3c3a3a" stroke-width="1.5" />
<line x1="572.40" y1="119.90" x2="576.00" y2="119.90" stroke="#6c6a6a" stroke-width="1.0" />
<text transform="translate(78.54,569.00) scale(0.8902,1)" font-size="22.4" font-weight="bold" fill="#1f1d1e" stroke="#1f1d1e" stroke-width="1.3" stroke-linejoin="round">R</text>
<text transform="translate(94.83,569.00) scale(0.6707,1)" font-size="22.4" font-weight="bold" fill="#1f1d1e" stroke="#1f1d1e" stroke-width="1.3" stroke-linejoin="round">E</text>
<text transform="translate(107.28,569.00) scale(0.6900,1)" font-size="22.4" font-weight="bold" fill="#1f1d1e" stroke="#1f1d1e" stroke-width="1.3" stroke-linejoin="round">T</text>
<text transform="translate(118.42,569.00) scale(1.0385,1)" font-size="22.4" font-weight="bold" fill="#1f1d1e" stroke="#1f1d1e" stroke-width="1.3" stroke-linejoin="round">I</text>
<text transform="translate(126.07,569.00) scale(0.8715,1)" font-size="22.4" font-weight="bold" fill="#1f1d1e" stroke="#1f1d1e" stroke-width="1.3" stroke-linejoin="round">C</text>
<text transform="translate(141.89,569.00) scale(0.7192,1)" font-size="22.4" font-weight="bold" fill="#1f1d1e" stroke="#1f1d1e" stroke-width="1.3" stroke-linejoin="round">L</text>
<text transform="translate(153.39,569.00) scale(0.7212,1)" font-size="22.4" font-weight="bold" fill="#1f1d1e" stroke="#1f1d1e" stroke-width="1.3" stroke-linejoin="round">E</text>
<text transform="translate(174.10,569.00) scale(0.8357,1)" font-size="22.4" font-weight="bold" fill="#1f1d1e" stroke="#1f1d1e" stroke-width="1.3" stroke-linejoin="round">S</text>
<text transform="translate(188.12,569.00) scale(0.8400,1)" font-size="22.4" font-weight="bold" fill="#1f1d1e" stroke="#1f1d1e" stroke-width="1.3" stroke-linejoin="round">U</text>
<text transform="translate(202.88,569.00) scale(1.0826,1)" font-size="22.4" font-weight="bold" fill="#1f1d1e" stroke="#1f1d1e" stroke-width="1.3" stroke-linejoin="round">B</text>
<text transform="translate(221.14,569.00) scale(0.8487,1)" font-size="22.4" font-weight="bold" fill="#1f1d1e" stroke="#1f1d1e" stroke-width="1.3" stroke-linejoin="round">T</text>
<text transform="translate(234.14,569.00) scale(0.6635,1)" font-size="22.4" font-weight="bold" fill="#1f1d1e" stroke="#1f1d1e" stroke-width="1.3" stroke-linejoin="round">E</text>
<text transform="translate(246.09,569.00) scale(1.0642,1)" font-size="22.4" font-weight="bold" fill="#1f1d1e" stroke="#1f1d1e" stroke-width="1.3" stroke-linejoin="round">N</text>
<text transform="translate(264.70,569.00) scale(0.9988,1)" font-size="22.4" font-weight="bold" fill="#1f1d1e" stroke="#1f1d1e" stroke-width="1.3" stroke-linejoin="round">S</text>
<text transform="translate(280.84,569.00) scale(1.0164,1)" font-size="22.4" font-weight="bold" fill="#1f1d1e" stroke="#1f1d1e" stroke-width="1.3" stroke-linejoin="round">I</text>
<text transform="translate(288.31,569.00) scale(1.0968,1)" font-size="22.4" font-weight="bold" fill="#1f1d1e" stroke="#1f1d1e" stroke-width="1.3" stroke-linejoin="round">O</text>
<text transform="translate(309.29,569.00) scale(1.0642,1)" font-size="22.4" font-weight="bold" fill="#1f1d1e" stroke="#1f1d1e" stroke-width="1.3" stroke-linejoin="round">N</text>
<text transform="translate(328.70,569.00) scale(0.8901,1)" font-size="22.4" font-weight="bold" fill="#1f1d1e" stroke="#1f1d1e" stroke-width="1.3" stroke-linejoin="round">S</text>
<line x1="63.90" y1="585.80" x2="791.20" y2="585.80" stroke="#333131" stroke-width="1.6" />
<rect x="67.00" y="612.00" width="716.10" height="27.10" fill="#dddbd5" />
<text x="76.40" y="629.70" font-size="10.6" fill="#3b3936" text-anchor="start" font-weight="normal" textLength="17.34" lengthAdjust="spacingAndGlyphs" >Unit</text>
<text x="181.65" y="629.70" font-size="10.6" fill="#3b3936" text-anchor="middle" font-weight="normal" >A</text>
<text x="222.75" y="629.70" font-size="10.6" fill="#3b3936" text-anchor="middle" font-weight="normal" >B</text>
<text x="263.85" y="629.70" font-size="10.6" fill="#3b3936" text-anchor="middle" font-weight="normal" >C</text>
<text x="304.95" y="629.70" font-size="10.6" fill="#3b3936" text-anchor="middle" font-weight="normal" >D</text>
<text x="346.05" y="629.70" font-size="10.6" fill="#3b3936" text-anchor="middle" font-weight="normal" >E</text>
<text x="387.15" y="629.70" font-size="10.6" fill="#3b3936" text-anchor="middle" font-weight="normal" >F</text>
<text x="428.25" y="629.70" font-size="10.6" fill="#3b3936" text-anchor="middle" font-weight="normal" >G</text>
<text x="469.35" y="629.70" font-size="10.6" fill="#3b3936" text-anchor="middle" font-weight="normal" >H</text>
<text x="510.45" y="629.70" font-size="10.6" fill="#3b3936" text-anchor="middle" font-weight="normal" >I</text>
<text x="551.55" y="629.70" font-size="10.6" fill="#3b3936" text-anchor="middle" font-weight="normal" >J</text>
<text x="592.65" y="629.70" font-size="10.6" fill="#3b3936" text-anchor="middle" font-weight="normal" >K</text>
<text x="633.75" y="629.70" font-size="10.6" fill="#3b3936" text-anchor="middle" font-weight="normal" >L</text>
<text x="674.85" y="629.70" font-size="10.6" fill="#3b3936" text-anchor="middle" font-weight="normal" >M</text>
<text x="715.95" y="629.70" font-size="10.6" fill="#3b3936" text-anchor="middle" font-weight="normal" >N</text>
<text x="759.30" y="629.70" font-size="10.6" fill="#3b3936" text-anchor="middle" font-weight="normal" >O</text>
<text x="78.40" y="661.20" font-size="13.4" fill="#1f1d1e" text-anchor="start" font-weight="bold" textLength="150.00" lengthAdjust="spacingAndGlyphs" stroke="#1f1d1e" stroke-width="0.45" stroke-linejoin="round">4-20x50 and 5-25x50</text>
<rect x="67.00" y="669.00" width="715.00" height="83.60" fill="#f2f0ea" />
<line x1="67.00" y1="696.50" x2="782.00" y2="696.50" stroke="#faf9f6" stroke-width="1.4" />
<line x1="67.00" y1="724.50" x2="782.00" y2="724.50" stroke="#faf9f6" stroke-width="1.4" />
<line x1="161.10" y1="669.00" x2="161.10" y2="752.60" stroke="#faf9f6" stroke-width="1.1" />
<line x1="202.20" y1="669.00" x2="202.20" y2="752.60" stroke="#faf9f6" stroke-width="1.1" />
<line x1="243.30" y1="669.00" x2="243.30" y2="752.60" stroke="#faf9f6" stroke-width="1.1" />
<line x1="284.40" y1="669.00" x2="284.40" y2="752.60" stroke="#faf9f6" stroke-width="1.1" />
<line x1="325.50" y1="669.00" x2="325.50" y2="752.60" stroke="#faf9f6" stroke-width="1.1" />
<line x1="366.60" y1="669.00" x2="366.60" y2="752.60" stroke="#faf9f6" stroke-width="1.1" />
<line x1="407.70" y1="669.00" x2="407.70" y2="752.60" stroke="#faf9f6" stroke-width="1.1" />
<line x1="448.80" y1="669.00" x2="448.80" y2="752.60" stroke="#faf9f6" stroke-width="1.1" />
<line x1="489.90" y1="669.00" x2="489.90" y2="752.60" stroke="#faf9f6" stroke-width="1.1" />
<line x1="531.00" y1="669.00" x2="531.00" y2="752.60" stroke="#faf9f6" stroke-width="1.1" />
<line x1="572.10" y1="669.00" x2="572.10" y2="752.60" stroke="#faf9f6" stroke-width="1.1" />
<line x1="613.20" y1="669.00" x2="613.20" y2="752.60" stroke="#faf9f6" stroke-width="1.1" />
<line x1="654.30" y1="669.00" x2="654.30" y2="752.60" stroke="#faf9f6" stroke-width="1.1" />
<line x1="695.40" y1="669.00" x2="695.40" y2="752.60" stroke="#faf9f6" stroke-width="1.1" />
<line x1="736.50" y1="669.00" x2="736.50" y2="752.60" stroke="#faf9f6" stroke-width="1.1" />
<text x="76.60" y="687.00" font-size="13.8" fill="#3b3936" text-anchor="start" font-weight="normal" textLength="20.60" lengthAdjust="spacingAndGlyphs" >Mils</text>
<text x="168.78" y="687.00" font-size="14.0" fill="#3b3936" text-anchor="start" font-weight="normal" textLength="25.75" lengthAdjust="spacingAndGlyphs" >1.00</text>
<text x="209.88" y="687.00" font-size="14.0" fill="#3b3936" text-anchor="start" font-weight="normal" textLength="25.75" lengthAdjust="spacingAndGlyphs" >0.50</text>
<text x="247.30" y="687.00" font-size="14.0" fill="#3b3936" text-anchor="start" font-weight="normal" textLength="33.11" lengthAdjust="spacingAndGlyphs" >0.035</text>
<text x="292.08" y="687.00" font-size="14.0" fill="#3b3936" text-anchor="start" font-weight="normal" textLength="25.75" lengthAdjust="spacingAndGlyphs" >0.10</text>
<text x="333.18" y="687.00" font-size="14.0" fill="#3b3936" text-anchor="start" font-weight="normal" textLength="25.75" lengthAdjust="spacingAndGlyphs" >0.25</text>
<text x="370.60" y="687.00" font-size="14.0" fill="#3b3936" text-anchor="start" font-weight="normal" textLength="33.11" lengthAdjust="spacingAndGlyphs" >0.035</text>
<text x="415.38" y="687.00" font-size="14.0" fill="#3b3936" text-anchor="start" font-weight="normal" textLength="25.75" lengthAdjust="spacingAndGlyphs" >0.08</text>
<text x="456.48" y="687.00" font-size="14.0" fill="#3b3936" text-anchor="start" font-weight="normal" textLength="25.75" lengthAdjust="spacingAndGlyphs" >2.00</text>
<text x="497.58" y="687.00" font-size="14.0" fill="#3b3936" text-anchor="start" font-weight="normal" textLength="25.75" lengthAdjust="spacingAndGlyphs" >0.20</text>
<text x="538.68" y="687.00" font-size="14.0" fill="#3b3936" text-anchor="start" font-weight="normal" textLength="25.75" lengthAdjust="spacingAndGlyphs" >0.40</text>
<text x="579.78" y="687.00" font-size="14.0" fill="#3b3936" text-anchor="start" font-weight="normal" textLength="25.75" lengthAdjust="spacingAndGlyphs" >0.60</text>
<text x="620.88" y="687.00" font-size="14.0" fill="#3b3936" text-anchor="start" font-weight="normal" textLength="25.75" lengthAdjust="spacingAndGlyphs" >0.80</text>
<text x="661.98" y="687.00" font-size="14.0" fill="#3b3936" text-anchor="start" font-weight="normal" textLength="25.75" lengthAdjust="spacingAndGlyphs" >0.02</text>
<text x="703.08" y="687.00" font-size="14.0" fill="#3b3936" text-anchor="start" font-weight="normal" textLength="25.75" lengthAdjust="spacingAndGlyphs" >0.03</text>
<text x="742.75" y="687.00" font-size="14.0" fill="#3b3936" text-anchor="start" font-weight="normal" textLength="33.11" lengthAdjust="spacingAndGlyphs" >0.125</text>
<text x="76.60" y="715.50" font-size="13.8" fill="#3b3936" text-anchor="start" font-weight="normal" textLength="20.39" lengthAdjust="spacingAndGlyphs" >CM</text>
<text x="174.29" y="715.50" font-size="14.0" fill="#3b3936" text-anchor="start" font-weight="normal" textLength="14.72" lengthAdjust="spacingAndGlyphs" >10</text>
<text x="219.07" y="715.50" font-size="14.0" fill="#3b3936" text-anchor="start" font-weight="normal" textLength="7.36" lengthAdjust="spacingAndGlyphs" >5</text>
<text x="250.98" y="715.50" font-size="14.0" fill="#3b3936" text-anchor="start" font-weight="normal" textLength="25.75" lengthAdjust="spacingAndGlyphs" >0.35</text>
<text x="301.27" y="715.50" font-size="14.0" fill="#3b3936" text-anchor="start" font-weight="normal" textLength="7.36" lengthAdjust="spacingAndGlyphs" >1</text>
<text x="336.85" y="715.50" font-size="14.0" fill="#3b3936" text-anchor="start" font-weight="normal" textLength="18.39" lengthAdjust="spacingAndGlyphs" >2.5</text>
<text x="374.28" y="715.50" font-size="14.0" fill="#3b3936" text-anchor="start" font-weight="normal" textLength="25.75" lengthAdjust="spacingAndGlyphs" >0.35</text>
<text x="419.05" y="715.50" font-size="14.0" fill="#3b3936" text-anchor="start" font-weight="normal" textLength="18.39" lengthAdjust="spacingAndGlyphs" >0.8</text>
<text x="461.99" y="715.50" font-size="14.0" fill="#3b3936" text-anchor="start" font-weight="normal" textLength="14.72" lengthAdjust="spacingAndGlyphs" >20</text>
<text x="506.77" y="715.50" font-size="14.0" fill="#3b3936" text-anchor="start" font-weight="normal" textLength="7.36" lengthAdjust="spacingAndGlyphs" >2</text>
<text x="547.87" y="715.50" font-size="14.0" fill="#3b3936" text-anchor="start" font-weight="normal" textLength="7.36" lengthAdjust="spacingAndGlyphs" >4</text>
<text x="588.97" y="715.50" font-size="14.0" fill="#3b3936" text-anchor="start" font-weight="normal" textLength="7.36" lengthAdjust="spacingAndGlyphs" >6</text>
<text x="630.07" y="715.50" font-size="14.0" fill="#3b3936" text-anchor="start" font-weight="normal" textLength="7.36" lengthAdjust="spacingAndGlyphs" >8</text>
<text x="665.65" y="715.50" font-size="14.0" fill="#3b3936" text-anchor="start" font-weight="normal" textLength="18.39" lengthAdjust="spacingAndGlyphs" >0.2</text>
<text x="706.75" y="715.50" font-size="14.0" fill="#3b3936" text-anchor="start" font-weight="normal" textLength="18.39" lengthAdjust="spacingAndGlyphs" >0.3</text>
<text x="742.75" y="715.50" font-size="14.0" fill="#3b3936" text-anchor="start" font-weight="normal" textLength="33.11" lengthAdjust="spacingAndGlyphs" >1.250</text>
<text x="76.60" y="744.70" font-size="13.8" fill="#3b3936" text-anchor="start" font-weight="normal" textLength="51.29" lengthAdjust="spacingAndGlyphs" >in./100yd.</text>
<text x="168.78" y="744.70" font-size="14.0" fill="#3b3936" text-anchor="start" font-weight="normal" textLength="25.75" lengthAdjust="spacingAndGlyphs" >3.66</text>
<text x="209.88" y="744.70" font-size="14.0" fill="#3b3936" text-anchor="start" font-weight="normal" textLength="25.75" lengthAdjust="spacingAndGlyphs" >1.83</text>
<text x="250.98" y="744.70" font-size="14.0" fill="#3b3936" text-anchor="start" font-weight="normal" textLength="25.75" lengthAdjust="spacingAndGlyphs" >0.13</text>
<text x="292.08" y="744.70" font-size="14.0" fill="#3b3936" text-anchor="start" font-weight="normal" textLength="25.75" lengthAdjust="spacingAndGlyphs" >0.37</text>
<text x="333.18" y="744.70" font-size="14.0" fill="#3b3936" text-anchor="start" font-weight="normal" textLength="25.75" lengthAdjust="spacingAndGlyphs" >0.92</text>
<text x="370.60" y="744.70" font-size="14.0" fill="#3b3936" text-anchor="start" font-weight="normal" textLength="33.11" lengthAdjust="spacingAndGlyphs" >0.125</text>
<text x="415.38" y="744.70" font-size="14.0" fill="#3b3936" text-anchor="start" font-weight="normal" textLength="25.75" lengthAdjust="spacingAndGlyphs" >0.29</text>
<text x="456.48" y="744.70" font-size="14.0" fill="#3b3936" text-anchor="start" font-weight="normal" textLength="25.75" lengthAdjust="spacingAndGlyphs" >7.32</text>
<text x="497.58" y="744.70" font-size="14.0" fill="#3b3936" text-anchor="start" font-weight="normal" textLength="25.75" lengthAdjust="spacingAndGlyphs" >0.73</text>
<text x="538.68" y="744.70" font-size="14.0" fill="#3b3936" text-anchor="start" font-weight="normal" textLength="25.75" lengthAdjust="spacingAndGlyphs" >1.46</text>
<text x="579.78" y="744.70" font-size="14.0" fill="#3b3936" text-anchor="start" font-weight="normal" textLength="25.75" lengthAdjust="spacingAndGlyphs" >2.20</text>
<text x="620.88" y="744.70" font-size="14.0" fill="#3b3936" text-anchor="start" font-weight="normal" textLength="25.75" lengthAdjust="spacingAndGlyphs" >2.93</text>
<text x="661.98" y="744.70" font-size="14.0" fill="#3b3936" text-anchor="start" font-weight="normal" textLength="25.75" lengthAdjust="spacingAndGlyphs" >0.07</text>
<text x="703.57" y="744.70" font-size="14.0" fill="#3b3936" text-anchor="start" font-weight="normal" textLength="24.77" lengthAdjust="spacingAndGlyphs" >0.11</text>
<text x="742.75" y="744.70" font-size="14.0" fill="#3b3936" text-anchor="start" font-weight="normal" textLength="33.11" lengthAdjust="spacingAndGlyphs" >0.458</text>
<text x="78.40" y="773.20" font-size="13.4" fill="#1f1d1e" text-anchor="start" font-weight="bold" textLength="57.50" lengthAdjust="spacingAndGlyphs" stroke="#1f1d1e" stroke-width="0.45" stroke-linejoin="round">3-15x50</text>
<rect x="67.00" y="780.40" width="715.00" height="84.00" fill="#f2f0ea" />
<line x1="67.00" y1="808.40" x2="782.00" y2="808.40" stroke="#faf9f6" stroke-width="1.4" />
<line x1="67.00" y1="836.40" x2="782.00" y2="836.40" stroke="#faf9f6" stroke-width="1.4" />
<line x1="161.10" y1="780.40" x2="161.10" y2="864.40" stroke="#faf9f6" stroke-width="1.1" />
<line x1="202.20" y1="780.40" x2="202.20" y2="864.40" stroke="#faf9f6" stroke-width="1.1" />
<line x1="243.30" y1="780.40" x2="243.30" y2="864.40" stroke="#faf9f6" stroke-width="1.1" />
<line x1="284.40" y1="780.40" x2="284.40" y2="864.40" stroke="#faf9f6" stroke-width="1.1" />
<line x1="325.50" y1="780.40" x2="325.50" y2="864.40" stroke="#faf9f6" stroke-width="1.1" />
<line x1="366.60" y1="780.40" x2="366.60" y2="864.40" stroke="#faf9f6" stroke-width="1.1" />
<line x1="407.70" y1="780.40" x2="407.70" y2="864.40" stroke="#faf9f6" stroke-width="1.1" />
<line x1="448.80" y1="780.40" x2="448.80" y2="864.40" stroke="#faf9f6" stroke-width="1.1" />
<line x1="489.90" y1="780.40" x2="489.90" y2="864.40" stroke="#faf9f6" stroke-width="1.1" />
<line x1="531.00" y1="780.40" x2="531.00" y2="864.40" stroke="#faf9f6" stroke-width="1.1" />
<line x1="572.10" y1="780.40" x2="572.10" y2="864.40" stroke="#faf9f6" stroke-width="1.1" />
<line x1="613.20" y1="780.40" x2="613.20" y2="864.40" stroke="#faf9f6" stroke-width="1.1" />
<line x1="654.30" y1="780.40" x2="654.30" y2="864.40" stroke="#faf9f6" stroke-width="1.1" />
<line x1="695.40" y1="780.40" x2="695.40" y2="864.40" stroke="#faf9f6" stroke-width="1.1" />
<line x1="736.50" y1="780.40" x2="736.50" y2="864.40" stroke="#faf9f6" stroke-width="1.1" />
<text x="76.60" y="799.00" font-size="13.8" fill="#3b3936" text-anchor="start" font-weight="normal" textLength="20.60" lengthAdjust="spacingAndGlyphs" >Mils</text>
<text x="168.78" y="799.00" font-size="14.0" fill="#3b3936" text-anchor="start" font-weight="normal" textLength="25.75" lengthAdjust="spacingAndGlyphs" >1.00</text>
<text x="209.88" y="799.00" font-size="14.0" fill="#3b3936" text-anchor="start" font-weight="normal" textLength="25.75" lengthAdjust="spacingAndGlyphs" >0.50</text>
<text x="250.98" y="799.00" font-size="14.0" fill="#3b3936" text-anchor="start" font-weight="normal" textLength="25.75" lengthAdjust="spacingAndGlyphs" >0.05</text>
<text x="292.08" y="799.00" font-size="14.0" fill="#3b3936" text-anchor="start" font-weight="normal" textLength="25.75" lengthAdjust="spacingAndGlyphs" >0.10</text>
<text x="333.18" y="799.00" font-size="14.0" fill="#3b3936" text-anchor="start" font-weight="normal" textLength="25.75" lengthAdjust="spacingAndGlyphs" >0.25</text>
<text x="374.28" y="799.00" font-size="14.0" fill="#3b3936" text-anchor="start" font-weight="normal" textLength="25.75" lengthAdjust="spacingAndGlyphs" >0.05</text>
<text x="415.38" y="799.00" font-size="14.0" fill="#3b3936" text-anchor="start" font-weight="normal" textLength="25.75" lengthAdjust="spacingAndGlyphs" >0.08</text>
<text x="456.48" y="799.00" font-size="14.0" fill="#3b3936" text-anchor="start" font-weight="normal" textLength="25.75" lengthAdjust="spacingAndGlyphs" >2.00</text>
<text x="497.58" y="799.00" font-size="14.0" fill="#3b3936" text-anchor="start" font-weight="normal" textLength="25.75" lengthAdjust="spacingAndGlyphs" >0.20</text>
<text x="538.68" y="799.00" font-size="14.0" fill="#3b3936" text-anchor="start" font-weight="normal" textLength="25.75" lengthAdjust="spacingAndGlyphs" >0.40</text>
<text x="579.78" y="799.00" font-size="14.0" fill="#3b3936" text-anchor="start" font-weight="normal" textLength="25.75" lengthAdjust="spacingAndGlyphs" >0.60</text>
<text x="620.88" y="799.00" font-size="14.0" fill="#3b3936" text-anchor="start" font-weight="normal" textLength="25.75" lengthAdjust="spacingAndGlyphs" >0.80</text>
<text x="661.98" y="799.00" font-size="14.0" fill="#3b3936" text-anchor="start" font-weight="normal" textLength="25.75" lengthAdjust="spacingAndGlyphs" >0.04</text>
<text x="703.08" y="799.00" font-size="14.0" fill="#3b3936" text-anchor="start" font-weight="normal" textLength="25.75" lengthAdjust="spacingAndGlyphs" >0.04</text>
<text x="742.75" y="799.00" font-size="14.0" fill="#3b3936" text-anchor="start" font-weight="normal" textLength="33.11" lengthAdjust="spacingAndGlyphs" >0.125</text>
<text x="76.60" y="827.60" font-size="13.8" fill="#3b3936" text-anchor="start" font-weight="normal" textLength="20.39" lengthAdjust="spacingAndGlyphs" >CM</text>
<text x="174.29" y="827.60" font-size="14.0" fill="#3b3936" text-anchor="start" font-weight="normal" textLength="14.72" lengthAdjust="spacingAndGlyphs" >10</text>
<text x="219.07" y="827.60" font-size="14.0" fill="#3b3936" text-anchor="start" font-weight="normal" textLength="7.36" lengthAdjust="spacingAndGlyphs" >5</text>
<text x="254.65" y="827.60" font-size="14.0" fill="#3b3936" text-anchor="start" font-weight="normal" textLength="18.39" lengthAdjust="spacingAndGlyphs" >0.5</text>
<text x="301.27" y="827.60" font-size="14.0" fill="#3b3936" text-anchor="start" font-weight="normal" textLength="7.36" lengthAdjust="spacingAndGlyphs" >1</text>
<text x="336.85" y="827.60" font-size="14.0" fill="#3b3936" text-anchor="start" font-weight="normal" textLength="18.39" lengthAdjust="spacingAndGlyphs" >2.5</text>
<text x="377.95" y="827.60" font-size="14.0" fill="#3b3936" text-anchor="start" font-weight="normal" textLength="18.39" lengthAdjust="spacingAndGlyphs" >0.5</text>
<text x="419.05" y="827.60" font-size="14.0" fill="#3b3936" text-anchor="start" font-weight="normal" textLength="18.39" lengthAdjust="spacingAndGlyphs" >0.8</text>
<text x="461.99" y="827.60" font-size="14.0" fill="#3b3936" text-anchor="start" font-weight="normal" textLength="14.72" lengthAdjust="spacingAndGlyphs" >20</text>
<text x="506.77" y="827.60" font-size="14.0" fill="#3b3936" text-anchor="start" font-weight="normal" textLength="7.36" lengthAdjust="spacingAndGlyphs" >2</text>
<text x="547.87" y="827.60" font-size="14.0" fill="#3b3936" text-anchor="start" font-weight="normal" textLength="7.36" lengthAdjust="spacingAndGlyphs" >4</text>
<text x="588.97" y="827.60" font-size="14.0" fill="#3b3936" text-anchor="start" font-weight="normal" textLength="7.36" lengthAdjust="spacingAndGlyphs" >6</text>
<text x="630.07" y="827.60" font-size="14.0" fill="#3b3936" text-anchor="start" font-weight="normal" textLength="7.36" lengthAdjust="spacingAndGlyphs" >8</text>
<text x="665.65" y="827.60" font-size="14.0" fill="#3b3936" text-anchor="start" font-weight="normal" textLength="18.39" lengthAdjust="spacingAndGlyphs" >0.4</text>
<text x="706.75" y="827.60" font-size="14.0" fill="#3b3936" text-anchor="start" font-weight="normal" textLength="18.39" lengthAdjust="spacingAndGlyphs" >0.4</text>
<text x="746.43" y="827.60" font-size="14.0" fill="#3b3936" text-anchor="start" font-weight="normal" textLength="25.75" lengthAdjust="spacingAndGlyphs" >1.25</text>
<text x="76.60" y="856.50" font-size="13.8" fill="#3b3936" text-anchor="start" font-weight="normal" textLength="51.29" lengthAdjust="spacingAndGlyphs" >in./100yd.</text>
<text x="168.78" y="856.50" font-size="14.0" fill="#3b3936" text-anchor="start" font-weight="normal" textLength="25.75" lengthAdjust="spacingAndGlyphs" >3.66</text>
<text x="209.88" y="856.50" font-size="14.0" fill="#3b3936" text-anchor="start" font-weight="normal" textLength="25.75" lengthAdjust="spacingAndGlyphs" >1.83</text>
<text x="250.98" y="856.50" font-size="14.0" fill="#3b3936" text-anchor="start" font-weight="normal" textLength="25.75" lengthAdjust="spacingAndGlyphs" >0.18</text>
<text x="292.08" y="856.50" font-size="14.0" fill="#3b3936" text-anchor="start" font-weight="normal" textLength="25.75" lengthAdjust="spacingAndGlyphs" >0.37</text>
<text x="333.18" y="856.50" font-size="14.0" fill="#3b3936" text-anchor="start" font-weight="normal" textLength="25.75" lengthAdjust="spacingAndGlyphs" >0.92</text>
<text x="374.28" y="856.50" font-size="14.0" fill="#3b3936" text-anchor="start" font-weight="normal" textLength="25.75" lengthAdjust="spacingAndGlyphs" >0.18</text>
<text x="415.38" y="856.50" font-size="14.0" fill="#3b3936" text-anchor="start" font-weight="normal" textLength="25.75" lengthAdjust="spacingAndGlyphs" >0.29</text>
<text x="456.48" y="856.50" font-size="14.0" fill="#3b3936" text-anchor="start" font-weight="normal" textLength="25.75" lengthAdjust="spacingAndGlyphs" >7.32</text>
<text x="497.58" y="856.50" font-size="14.0" fill="#3b3936" text-anchor="start" font-weight="normal" textLength="25.75" lengthAdjust="spacingAndGlyphs" >0.73</text>
<text x="538.68" y="856.50" font-size="14.0" fill="#3b3936" text-anchor="start" font-weight="normal" textLength="25.75" lengthAdjust="spacingAndGlyphs" >1.46</text>
<text x="579.78" y="856.50" font-size="14.0" fill="#3b3936" text-anchor="start" font-weight="normal" textLength="25.75" lengthAdjust="spacingAndGlyphs" >2.20</text>
<text x="620.88" y="856.50" font-size="14.0" fill="#3b3936" text-anchor="start" font-weight="normal" textLength="25.75" lengthAdjust="spacingAndGlyphs" >2.93</text>
<text x="661.98" y="856.50" font-size="14.0" fill="#3b3936" text-anchor="start" font-weight="normal" textLength="25.75" lengthAdjust="spacingAndGlyphs" >0.15</text>
<text x="703.08" y="856.50" font-size="14.0" fill="#3b3936" text-anchor="start" font-weight="normal" textLength="25.75" lengthAdjust="spacingAndGlyphs" >0.15</text>
<text x="746.43" y="856.50" font-size="14.0" fill="#3b3936" text-anchor="start" font-weight="normal" textLength="25.75" lengthAdjust="spacingAndGlyphs" >0.46</text>
</g>
</svg>
</body></html>
